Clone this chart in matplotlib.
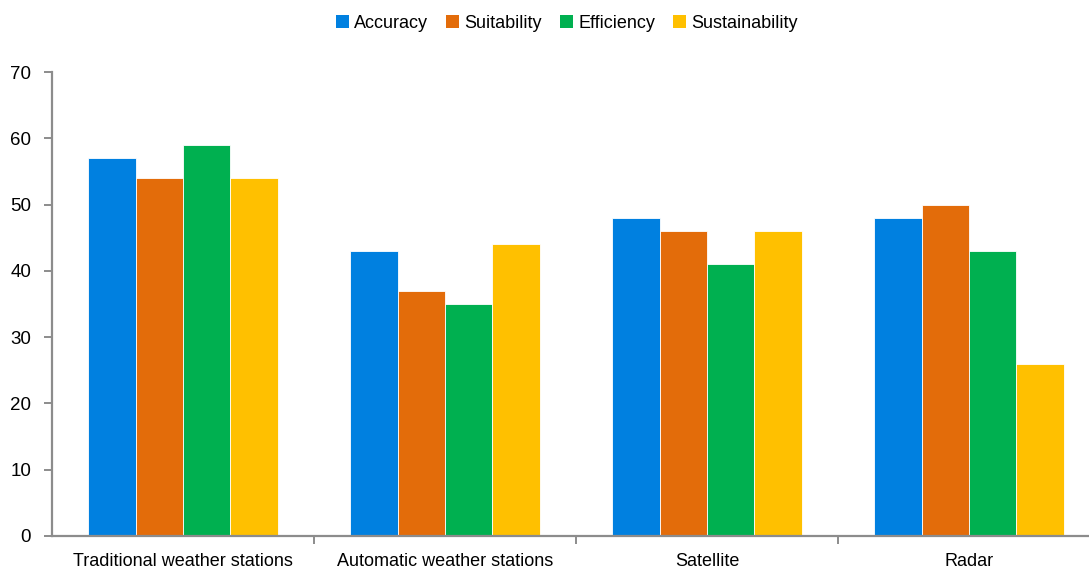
import numpy as np
import matplotlib.pyplot as plt
from matplotlib.patches import Patch

plt.rcParams['font.family'] = ['Liberation Sans', 'DejaVu Sans']

categories = ['Traditional weather stations', 'Automatic weather stations', 'Satellite', 'Radar']
series = ['Accuracy', 'Suitability', 'Efficiency', 'Sustainability']
accuracy = [57, 43, 48, 48]
suitability = [54, 37, 46, 50]
efficiency = [59, 35, 41, 43]
sustainability = [54, 44, 46, 26]
colors = ['#0080E0', '#E36C0A', '#00B050', '#FFC000']

values = [accuracy, suitability, efficiency, sustainability]
axis_grey = '#8C8C8C'

fig = plt.figure(figsize=(10.89, 5.70), dpi=100)
ax = fig.add_axes([52 / 1089, 34 / 570, 1048 / 1089, 464 / 570])

x = np.arange(len(categories))
width = 0.181
for i, (name, vals, c) in enumerate(zip(series, values, colors)):
    ax.bar(x + (i - 1.5) * width, vals, width, color=c, edgecolor='white',
           linewidth=0.6, label=name)

ax.set_xlim(-0.5, len(categories) - 0.5)
ax.set_ylim(0, 70)
ax.set_yticks(range(0, 71, 10))
ax.set_xticks(x)
ax.set_xticklabels(categories)
ax.set_xticks(np.arange(0.5, len(categories) - 0.5), minor=True)

for side in ['top', 'right']:
    ax.spines[side].set_visible(False)
for side in ['left', 'bottom']:
    ax.spines[side].set_color(axis_grey)
    ax.spines[side].set_linewidth(1.6)

ax.tick_params(axis='y', length=6, width=1.4, color=axis_grey, labelsize=13.5, pad=9)
ax.tick_params(axis='x', which='major', length=0, labelsize=13, pad=12)
ax.tick_params(axis='x', which='minor', length=6, width=1.4, color=axis_grey)

handles = [Patch(facecolor=c, label=s) for s, c in zip(series, colors)]
fig.legend(handles=handles, loc='center', bbox_to_anchor=(567 / 1089, 1 - 23 / 570),
           ncol=4, frameon=False, fontsize=13, handlelength=0.7, handleheight=0.7,
           handletextpad=0.3, columnspacing=1.0)

fig.savefig('out.png', dpi=100)
